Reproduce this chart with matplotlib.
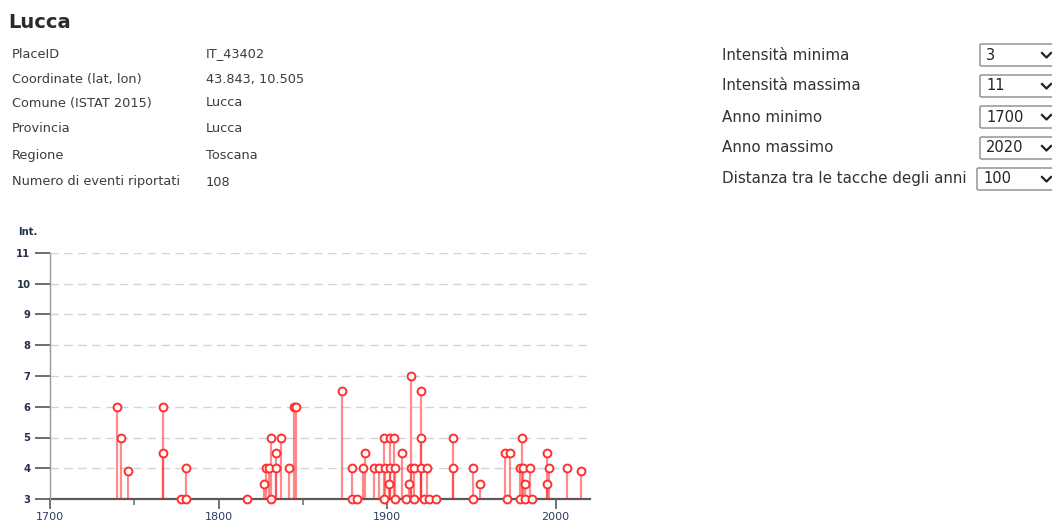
import matplotlib
matplotlib.use("Agg")
import matplotlib.pyplot as plt
from matplotlib.patches import FancyBboxPatch
from matplotlib.lines import Line2D

# ---------------- data ----------------
place_name = "Lucca"
info_labels = ["PlaceID", "Coordinate (lat, lon)", "Comune (ISTAT 2015)",
               "Provincia", "Regione", "Numero di eventi riportati"]
info_values = ["IT_43402", "43.843, 10.505", "Lucca", "Lucca", "Toscana", "108"]

control_labels = ["Intensità minima", "Intensità massima", "Anno minimo",
                  "Anno massimo", "Distanza tra le tacche degli anni"]
control_values = ["3", "11", "1700", "2020", "100"]

event_years = [1740, 1742, 1746, 1767, 1767, 1778, 1781, 1781, 1817,
               1827, 1828, 1830, 1831, 1831, 1834, 1834, 1837, 1842, 1845, 1846,
               1873, 1879, 1879, 1882, 1886, 1887, 1892, 1895, 1898, 1898, 1899,
               1901, 1902, 1902, 1904, 1905, 1905, 1909, 1911, 1913, 1914, 1914,
               1916, 1916, 1920, 1920, 1920, 1922, 1924, 1925, 1929, 1939, 1939,
               1951, 1951, 1955, 1970, 1971, 1973, 1979, 1979, 1980, 1981, 1982,
               1982, 1985, 1986, 1995, 1995, 1996, 2007, 2015]
event_intensity = [6, 5, 3.9, 6, 4.5, 3, 3, 4, 3,
                   3.5, 4, 4, 5, 3, 4.5, 4, 5, 4, 6, 6,
                   6.5, 4, 3, 3, 4, 4.5, 4, 4, 5, 3, 4,
                   3.5, 4, 5, 5, 3, 4, 4.5, 3, 3.5, 7, 4,
                   4, 3, 6.5, 5, 4, 3, 4, 3, 3, 5, 4,
                   4, 3, 3.5, 4.5, 3, 4.5, 4, 3, 5, 4, 3.5,
                   3, 4, 3, 4.5, 3.5, 4, 4, 3.9]

int_min, int_max = 3, 11
year_min, year_max = 1700, 2020
major_years = [1700, 1800, 1900, 2000]
minor_years = [1750, 1850]

# ---------------- figure ----------------
W, H = 1052, 524
fig = plt.figure(figsize=(W / 100, H / 100), dpi=100)
fig.patch.set_facecolor("white")


def fx(x):
    return x / W


def fy(y):
    return 1 - y / H


# header
fig.text(fx(8), fy(22), place_name, fontsize=14, fontweight="bold",
         color="#2b2b2b", va="center", ha="left", family="DejaVu Sans")
row_y = [54, 79, 103, 128, 155, 182]
for lab, val, y in zip(info_labels, info_values, row_y):
    fig.text(fx(12), fy(y), lab, fontsize=9.3, color="#3c3c3c",
             va="center", ha="left")
    fig.text(fx(206), fy(y), val, fontsize=9.3, color="#3c3c3c",
             va="center", ha="left")

# controls on the right
ctrl_y = [55, 86, 117, 148, 179]
box_left = [980, 980, 980, 980, 977]
for lab, val, y, bl in zip(control_labels, control_values, ctrl_y, box_left):
    fig.text(fx(722), fy(y), lab, fontsize=10.9, color="#333333",
             va="center", ha="left")
    box = FancyBboxPatch((fx(bl), fy(y + 11)), fx(90), 22 / H,
                         boxstyle="round,pad=0,rounding_size=0.002",
                         transform=fig.transFigure, facecolor="white",
                         edgecolor="#8a8a8a", linewidth=1.0)
    fig.add_artist(box)
    fig.text(fx(bl + 6), fy(y), val, fontsize=10.5, color="#222222",
             va="center", ha="left")
    fig.add_artist(Line2D([fx(1042), fx(1046.5), fx(1051)],
                          [fy(y - 2), fy(y + 2.5), fy(y - 2)],
                          transform=fig.transFigure, color="#222222", lw=1.6))

# ---------------- chart ----------------
ax_left, ax_right = 50, 590
ax_top, ax_bottom = 253, 499
ax = fig.add_axes([fx(ax_left), fy(ax_bottom), (ax_right - ax_left) / W,
                   (ax_bottom - ax_top) / H])
ax.set_facecolor("white")
px_per_year = 1.685
x_end = year_min + (ax_right - ax_left) / px_per_year
ax.set_xlim(year_min, x_end)
ax.set_ylim(int_min, int_max)

# grid
ax.hlines(list(range(int_min + 1, int_max + 1)), year_min, x_end,
          colors="#d4d4d4", linewidth=1.0, linestyles=(0, (6, 4)), zorder=0)

# stems
for yr, iv in zip(event_years, event_intensity):
    ax.vlines(yr, int_min, iv, colors="#ff1a1a", alpha=0.5, linewidth=1.6,
              zorder=2)
ax.scatter(event_years, event_intensity, s=32, facecolor="white",
           edgecolor="#ff3030", linewidth=1.4, zorder=3, clip_on=False)

for s in ["top", "right"]:
    ax.spines[s].set_visible(False)
ax.spines["left"].set_color("#9a9a9a")
ax.spines["left"].set_linewidth(1.0)
ax.spines["bottom"].set_color("#5a5a5a")
ax.spines["bottom"].set_linewidth(1.6)
ax.spines["bottom"].set_zorder(1)

ax.set_yticks(list(range(int_min, int_max + 1)))
ax.set_yticklabels([str(v) for v in range(int_min, int_max + 1)],
                   fontsize=7.2, fontweight="bold", color="#25304a")
ax.tick_params(axis="y", length=11, width=1.2, color="#555555", pad=3)

ax.set_xticks(major_years)
ax.set_xticklabels([str(v) for v in major_years], fontsize=8,
                   color="#2c3c5c")
ax.set_xticks(minor_years, minor=True)
ax.tick_params(axis="x", which="major", length=7.5, width=1.3,
               color="#666666", pad=1.5)
ax.tick_params(axis="x", which="minor", length=4, width=1.1,
               color="#666666")

fig.text(fx(18), fy(232), "Int.", fontsize=7.2, fontweight="bold",
         color="#25304a", va="center", ha="left")

fig.savefig("out.png", dpi=100, facecolor="white")
